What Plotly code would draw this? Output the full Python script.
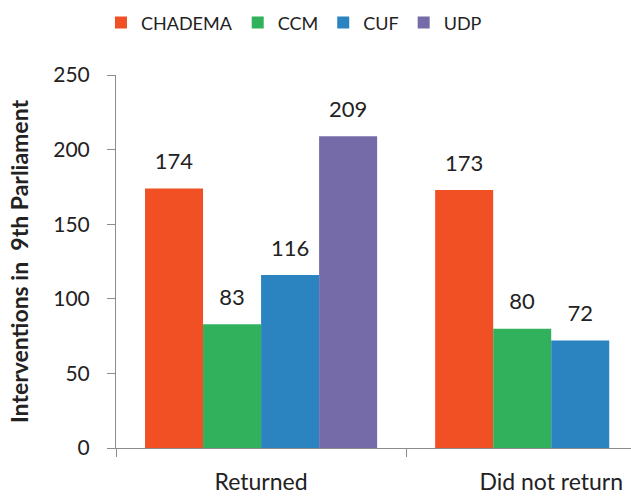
import plotly.graph_objects as go

categories = ["Returned", "Did not return"]
parties = ["CHADEMA", "CCM", "CUF", "UDP"]
chadema = [174, 173]
ccm = [83, 80]
cuf = [116, 72]
udp = [209, None]
colors = ["#F15025", "#31B15B", "#2B84C0", "#766BA9"]

series = [chadema, ccm, cuf, udp]

fig = go.Figure()
for name, vals, col in zip(parties, series, colors):
    fig.add_trace(go.Bar(
        name=name, x=categories, y=vals,
        marker=dict(color=col, line=dict(width=0)),
        text=[("" if v is None else f"<span style='font-size:22px'>{v}</span><br> ") for v in vals],
        textposition="outside",
        textfont=dict(family="Lato", size=11, color="#222222"),
        cliponaxis=False,
    ))

fig.update_layout(
    width=631, height=498,
    margin=dict(l=116, r=0, t=75, b=50, autoexpand=False),
    paper_bgcolor="white", plot_bgcolor="white",
    barmode="group", bargap=0.2, bargroupgap=0,
    font=dict(family="Lato", size=20, color="#222222"),
    showlegend=True,
    legend=dict(orientation="h", x=0.16, xanchor="left", y=0.954, yanchor="middle",
                xref="container", yref="container", font=dict(size=18),
                itemwidth=30, traceorder="normal"),
    xaxis=dict(range=[-0.5, 1.275], showline=True, linecolor="#8c8c8c", linewidth=1,
               ticks="outside", tickson="boundaries", ticklen=8, tickcolor="#8c8c8c",
               showgrid=False, tickfont=dict(size=23), automargin=False,
               ticklabelstandoff=13),
    yaxis=dict(range=[0, 250], dtick=50, showline=True, linecolor="#8c8c8c", linewidth=1,
               ticks="outside", ticklen=8, tickcolor="#8c8c8c", showgrid=False,
               zeroline=False, tickfont=dict(size=21), automargin=False,
               ticklabelstandoff=13,
               title=dict(text="<b>Interventions in  9th Parliament</b>",
                          font=dict(size=23), standoff=18)),
)

fig.write_html("out.html", config={"displayModeBar": False},
               post_script="document.body.style.margin='0';document.body.style.overflow='hidden';")
